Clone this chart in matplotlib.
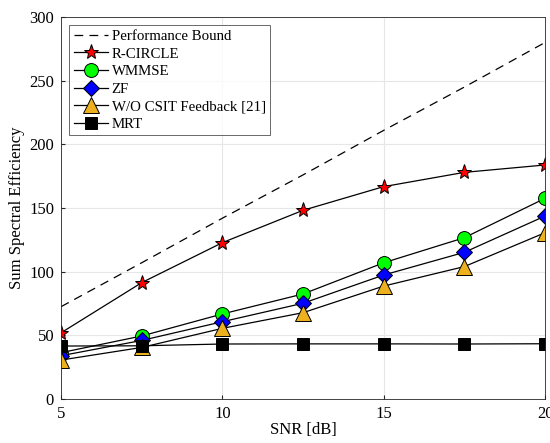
import matplotlib
matplotlib.use('Agg')
from matplotlib import pyplot as plt

snr = [5, 7.5, 10, 12.5, 15, 17.5, 20]
bound = [72.5, 107, 142, 176, 211, 245, 280]
rcircle = [52, 91.4, 122.8, 148.2, 166.8, 178, 183.8]
wmmse = [36.4, 49.5, 66.8, 82.5, 107, 126.7, 157.6]
zf = [34, 46, 60.7, 75.2, 97.4, 115.2, 143.7]
wo_csit = [30.6, 40.5, 55.5, 67.8, 88.7, 104, 130.6]
mrt = [41.6, 41.8, 43.2, 43.3, 43.3, 43.2, 43.4]

plt.rcParams['font.family'] = ['Liberation Serif', 'DejaVu Serif']

fig = plt.figure(figsize=(5.5, 4.43), dpi=100)
ax = fig.add_axes([0.111, 0.0993, 0.88, 0.8623])

ax.plot(snr, bound, '--', color='black', lw=0.9, dashes=(7, 5), label='Performance Bound')
ax.plot(snr, rcircle, '-', color='black', lw=0.9, marker='*', ms=11,
        mfc='red', mec='black', mew=0.7, label='R-CIRCLE')
ax.plot(snr, wmmse, '-', color='black', lw=0.9, marker='o', ms=10,
        mfc='#00ff00', mec='black', mew=0.7, label='WMMSE')
ax.plot(snr, zf, '-', color='black', lw=0.9, marker='D', ms=8.5,
        mfc='blue', mec='black', mew=0.7, label='ZF')
ax.plot(snr, wo_csit, '-', color='black', lw=0.9, marker='^', ms=11,
        mfc='#edb120', mec='black', mew=0.7, label='W/O CSIT Feedback [21]')
ax.plot(snr, mrt, '-', color='black', lw=0.9, marker='s', ms=9,
        mfc='black', mec='black', mew=0.7, label='MRT')

ax.set_xlim(5, 20)
ax.set_ylim(0, 300)
ax.set_xticks([5, 10, 15, 20])
ax.set_yticks(range(0, 301, 50))
ax.grid(True, color='#e6e6e6', lw=0.8)
ax.set_axisbelow(True)
ax.tick_params(labelsize=12, direction='in', length=3, color='#262626', pad=5)
for s in ax.spines.values():
    s.set_color('#262626')
    s.set_linewidth(0.6)

ax.set_xlabel('SNR [dB]', fontsize=12, labelpad=0)
ax.set_ylabel('Sum Spectral Efficiency', fontsize=12, labelpad=3)

leg = ax.legend(loc='upper left', fontsize=10.7, frameon=True, fancybox=False,
                edgecolor='#262626', borderpad=0.3, labelspacing=0.28,
                handlelength=2.3, handletextpad=0.25, borderaxespad=0.55)
leg.get_frame().set_linewidth(0.6)

fig.savefig('out.png', dpi=100)
